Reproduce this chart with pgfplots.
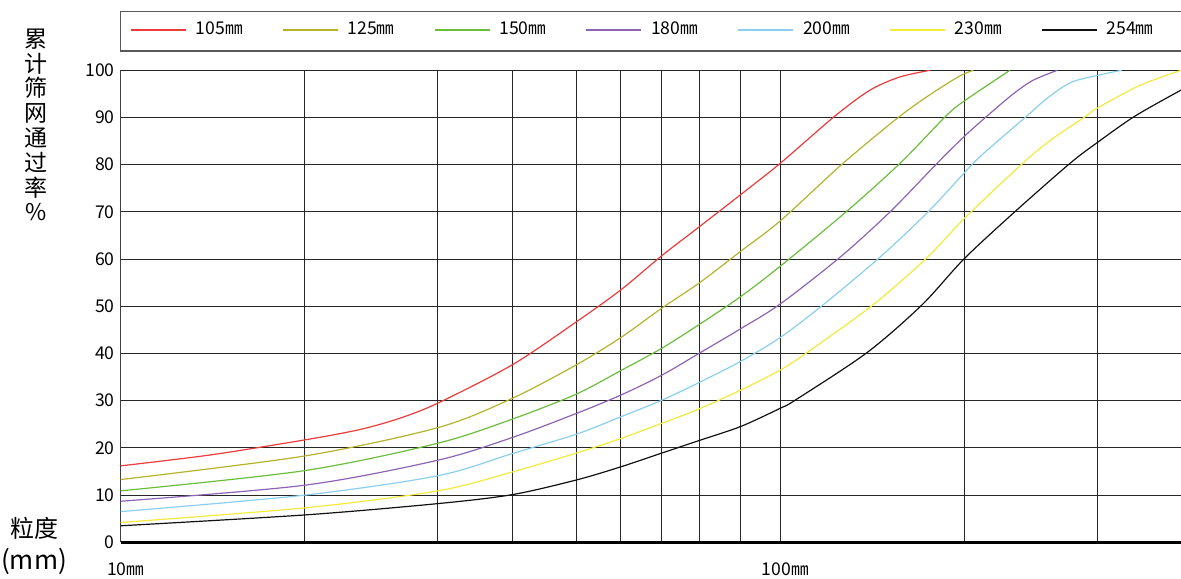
\documentclass[border=0pt]{standalone}
\usepackage{pgfplots}
\pgfplotsset{compat=1.18}
\usepackage{fontspec}
\setmainfont{Noto Sans CJK SC}
\definecolor{cRed}{HTML}{EE3B3B}
\definecolor{cOlive}{HTML}{B5B32C}
\definecolor{cGreen}{HTML}{6BBE3C}
\definecolor{cPurple}{HTML}{8D63B3}
\definecolor{cBlue}{HTML}{8ACFEE}
\definecolor{cYellow}{HTML}{F3EA3C}
\definecolor{cBlack}{HTML}{111111}
\begin{document}
\begin{tikzpicture}
\path[use as bounding box] (-60.35pt,-17.85pt) rectangle (530.15pt,271.15pt);
\begin{axis}[
  at={(0pt,0pt)}, anchor=south west,
  scale only axis, width=530.15pt, height=236pt,
  xmode=log, xmin=10, xmax=405.1, ymin=0, ymax=100,
  ytick={0,10,...,100},
  xtick={10,19.03,30.27,39.24,49.06,57.34,66.11,75.47,86.98,100,190.1,302.5},
  xticklabels={10㎜,,,,,,,,,100㎜,,},
  major tick length=0pt,
  grid=major,
  major grid style={black!85, line width=0.5pt},
  axis x line=bottom, axis y line=left,
  x axis line style={-, black, line width=1.35pt},
  y axis line style={-, black!75, line width=0.5pt},
  tick label style={font=\fontsize{8.8}{10}\selectfont},
  /pgf/number format/assume math mode=true,
  yticklabel style={anchor=east, inner sep=0pt, xshift=-2.85pt},
  xticklabel style={anchor=center, inner sep=0pt, yshift=-13.35pt, xshift=2.5pt},
  legend columns=7,
  legend image code/.code={\draw[#1, line width=0.9pt] (0pt,0pt) -- (27.5pt,0pt);},
  legend style={at={(0,1)}, anchor=west, xshift=4.65pt, yshift=20.15pt,
    draw=none, fill=none, inner sep=0pt, outer sep=0pt,
    nodes={inner sep=0pt, text width=24pt, align=left, font=\fontsize{8.8}{10}\selectfont},
    /tikz/every odd column/.append style={column sep=4.5pt},
    /tikz/every even column/.append style={column sep=19.0pt}},
  every axis plot/.append style={line width=0.6pt, smooth},
]
\addplot[cRed] coordinates {(10,16.2)(13.66,18.5)(19.03,21.7)(23.06,23.9)(26.51,26.3)(30.27,29.5)(39.24,37.6)(49.06,46.7)(57.34,53.5)(66.11,60.7)(75.47,66.9)(86.98,73.6)(100,80.3)(121.0,90.3)(136.8,95.8)(151.9,98.6)(168.7,100)};
\addplot[cOlive] coordinates {(10,13.3)(19.03,18.3)(30.27,24.3)(39.24,30.5)(49.06,37.6)(57.34,43.4)(66.11,49.6)(75.47,55.0)(86.98,61.6)(100,68.1)(124.5,80.3)(151.9,90.3)(170.6,95.3)(187.2,98.8)(196.2,100)};
\addplot[cGreen] coordinates {(10,10.9)(19.03,15.2)(30.27,21.0)(39.24,26.1)(49.06,31.4)(57.34,36.4)(66.11,41.1)(75.47,46.2)(86.98,52.0)(100,58.5)(125.8,70.0)(151.9,80.3)(178.3,90.3)(190.1,93.5)(222.9,100)};
\addplot[cPurple] coordinates {(10,8.7)(19.03,12.1)(30.27,17.4)(39.24,22.2)(49.06,27.3)(57.34,31.2)(66.11,35.4)(75.47,40.1)(86.98,45.2)(100,50.5)(123.2,60.4)(146.7,70.0)(172.9,80.3)(190.1,86.0)(205.8,90.3)(225.5,95.0)(241.8,97.9)(263.0,100)};
\addplot[cBlue] coordinates {(10,6.5)(19.03,10.0)(30.27,14.1)(39.24,18.8)(49.06,22.9)(57.34,26.6)(66.11,30.1)(75.47,33.9)(86.98,38.3)(100,43.4)(116.1,50.3)(141.6,60.4)(167.5,70.0)(196.2,80.3)(212.8,84.8)(236.4,90.3)(253.5,94.0)(275.5,97.4)(302.0,98.9)(329.3,100)};
\addplot[cYellow] coordinates {(10,4.2)(19.03,7.3)(30.27,10.9)(39.24,14.9)(49.06,18.9)(57.34,22.0)(66.11,25.2)(75.47,28.3)(86.98,32.2)(100,36.5)(109.8,40.2)(138.2,50.3)(166.9,60.3)(190.1,68.6)(233.1,80.3)(257.6,85.3)(290.8,90.3)(302.5,92.0)(351.1,96.8)(405.1,100)};
\addplot[cBlack] coordinates {(10,3.5)(19.03,5.8)(30.27,8.2)(39.24,10.1)(49.06,13.2)(57.34,16.0)(66.11,18.9)(75.47,21.6)(86.98,24.5)(100,28.4)(105.3,30.1)(135.4,40.2)(164.0,50.3)(190.1,60.1)(227.5,70.2)(275.0,80.3)(302.5,84.7)(345.0,90.3)(405.1,95.8)};
\legend{105㎜,125㎜,150㎜,180㎜,200㎜,230㎜,254㎜}
\end{axis}
\draw[black!65, line width=0.7pt] (0pt,245.65pt) rectangle (545pt,265.3pt);
\node[font=\fontsize{11.5}{12.4}\selectfont, align=center] at (-42.35pt,208.65pt) {累\\计\\筛\\网\\通\\过\\率\\\%};
\node[font=\fontsize{12}{14}\selectfont, inner sep=0pt] at (-42.85pt,7.15pt) {粒度};
\node[font=\fontsize{13}{14}\selectfont, inner sep=0pt] at (-43.35pt,-9.35pt) {(mm)};
\end{tikzpicture}
\end{document}
